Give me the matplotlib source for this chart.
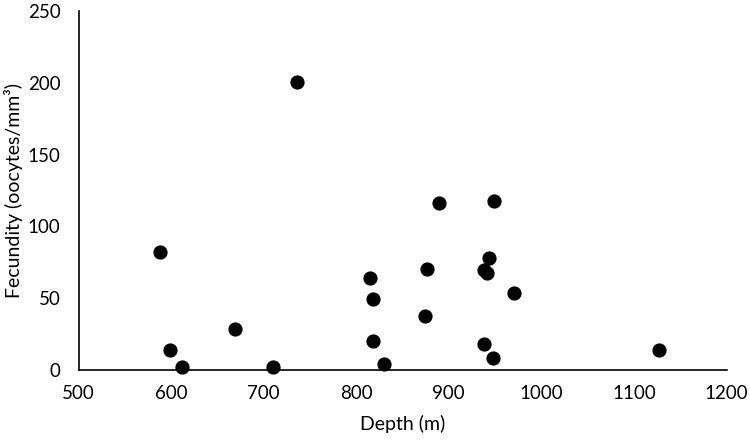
import matplotlib
matplotlib.use("Agg")
import matplotlib.pyplot as plt

plt.rcParams['font.family'] = ['Lato', 'DejaVu Sans']

depth = [588, 599, 612, 669, 710, 736, 815, 818, 818, 830, 874, 876, 889,
         949, 943, 938, 941, 970, 938, 948, 1127]
fecundity = [82, 14, 2.3, 28.5, 2.3, 200.5, 64, 49.5, 20.5, 4.2, 37.6, 70.3, 116.5,
             117.7, 78, 69.6, 67.8, 53.8, 18, 8.6, 14]

xticks = [500, 600, 700, 800, 900, 1000, 1100, 1200]
yticks = [0, 50, 100, 150, 200, 250]

fig = plt.figure(figsize=(7.5, 4.44), dpi=100)
ax = fig.add_axes([0.1047, 0.1667, 0.864, 0.808])
ax.scatter(depth, fecundity, s=85, color='black', zorder=3, clip_on=False)

ax.set_xlim(500, 1200)
ax.set_ylim(0, 250)
ax.set_xticks(xticks)
ax.set_yticks(yticks)
ax.tick_params(axis='x', length=0, labelsize=13.5, pad=11)
ax.tick_params(axis='y', length=0, labelsize=13.5, pad=13)
ax.spines['top'].set_visible(False)
ax.spines['right'].set_visible(False)
ax.spines['left'].set_linewidth(1.2)
ax.spines['bottom'].set_linewidth(1.2)
ax.set_xlabel('Depth (m)', fontsize=14, labelpad=9)
ax.set_ylabel('Fecundity (oocytes/mm³)', fontsize=14)
ax.yaxis.set_label_coords(-0.086, 0.5)

fig.savefig('out.png', dpi=100)
